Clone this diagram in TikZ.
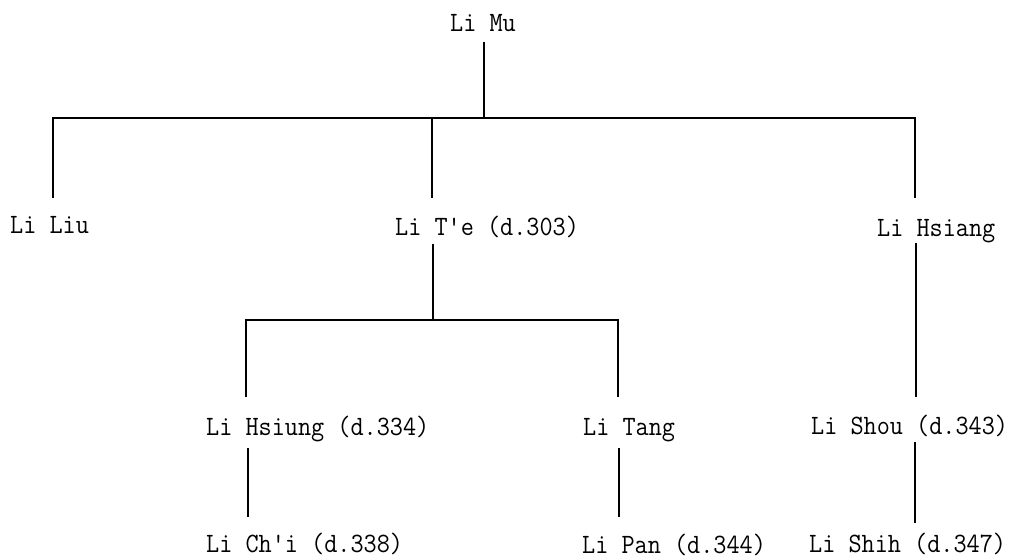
\documentclass[tikz,border=0pt]{standalone}
\usepackage{fontspec}
\newcommand{\twtext}[1]{\scalebox{0.91}[1]{\fontsize{28}{28}\ttfamily #1}}
\begin{document}
\begin{tikzpicture}[x=1pt,y=-1pt,
  person/.style={anchor=base west,inner sep=0pt},
  ln/.style={line width=2.8pt,line cap=butt,line join=miter}]
\useasboundingbox (0,0) rectangle (1011,559);
% people
\node[person] (mu) at (450,32) {\twtext{Li Mu}};
\node[person] (liu) at (10,233) {\twtext{Li Liu}};
\node[person] (te) at (395,235) {\twtext{Li T'e (d.303)}};
\node[person] (hsiang) at (877,236) {\twtext{Li Hsiang}};
\node[person] (hsiung) at (206,435) {\twtext{Li Hsiung (d.334)}};
\node[person] (tang) at (583,435) {\twtext{Li Tang}};
\node[person] (shou) at (811,434) {\twtext{Li Shou (d.343)}};
\node[person] (chi) at (206,552) {\twtext{Li Ch'i (d.338)}};
\node[person] (pan) at (582,553) {\twtext{Li Pan (d.344)}};
\node[person] (shih) at (809,552) {\twtext{Li Shih (d.347)}};
% junction points
\coordinate (muB) at (484,42);
\coordinate (barM) at (484,118);
\coordinate (barL) at (53,118);
\coordinate (barT) at (432,118);
\coordinate (barR) at (915,118);
\coordinate (liuT) at (53,198);
\coordinate (teT) at (432,198);
\coordinate (hsiangT) at (915,198);
\coordinate (teB) at (433,244);
\coordinate (subM) at (433,320);
\coordinate (subL) at (246,320);
\coordinate (subR) at (618,320);
\coordinate (hsiungT) at (246,397);
\coordinate (tangT) at (618,397);
\coordinate (hsiangB) at (916,243);
\coordinate (shouT) at (916,397);
\coordinate (hsiungB) at (248,448);
\coordinate (chiT) at (248,517);
\coordinate (tangB) at (619,448);
\coordinate (panT) at (619,517);
\coordinate (shouB) at (915,442);
\coordinate (shihT) at (915,523);
% connectors
\draw[ln] (muB) -- (barM);
\draw[ln] (liuT) -- (barL) -- (barR) -- (hsiangT);
\draw[ln] (barT) -- (teT);
\draw[ln] (teB) -- (subM);
\draw[ln] (hsiungT) -- (subL) -- (subR) -- (tangT);
\draw[ln] (hsiangB) -- (shouT);
\draw[ln] (hsiungB) -- (chiT);
\draw[ln] (tangB) -- (panT);
\draw[ln] (shouB) -- (shihT);
\end{tikzpicture}
\end{document}
